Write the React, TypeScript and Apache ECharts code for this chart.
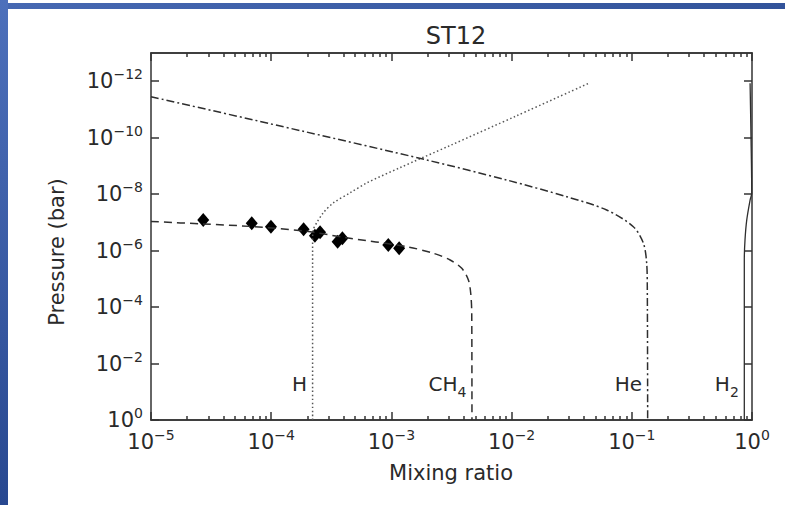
import React, { useEffect, useRef } from 'react';
import * as echarts from 'echarts';

// Axis ticks (exponents of ten)
const xMajorExponents = [-5, -4, -3, -2, -1, 0];
const yMajorExponents = [-12, -10, -8, -6, -4, -2, 0];
const minorMultipliers = [2, 3, 4, 5, 6, 7, 8, 9];

// H profile (dotted)
const hMixing = [2.21e-4, 2.21e-4, 2.21e-4, 2.25e-4, 2.39e-4, 2.71e-4, 3.29e-4, 4.53e-4, 6.24e-4, 1.17e-3, 3.08e-3, 1.1e-2, 4.49e-2];
const hPressure = [1, 1e-6, 3.5e-7, 1.7e-7, 1.04e-7, 4.6e-8, 2.04e-8, 9.0e-9, 4.0e-9, 1.17e-9, 1.89e-10, 1.68e-11, 1.13e-12];

// CH4 profile (dashed)
const ch4Mixing = [1e-5, 2.71e-5, 6.92e-5, 1.87e-4, 4.11e-4, 1.34e-3, 2.23e-3, 3.08e-3, 3.85e-3, 4.37e-3, 4.57e-3, 4.66e-3, 4.68e-3];
const ch4Pressure = [9.3e-8, 1.14e-7, 1.4e-7, 2.02e-7, 3.43e-7, 7.26e-7, 1.24e-6, 2.15e-6, 4.24e-6, 1.1e-5, 3.25e-5, 1.66e-4, 1];

// He profile (dash-dot)
const heMixing = [1e-5, 1.85e-4, 1.97e-3, 9.1e-3, 2.87e-2, 6.18e-2, 0.103, 0.125, 0.133, 0.1346, 0.1355];
const hePressure = [3.53e-12, 5.94e-11, 6.17e-10, 3.15e-9, 1.23e-8, 3.65e-8, 1.42e-7, 5.51e-7, 2.82e-6, 2.48e-5, 1];

// H2 profile (solid)
const h2Mixing = [0.863, 0.863, 0.875, 0.904, 0.964, 0.995, 0.982, 0.964];
const h2Pressure = [1, 2.08e-6, 4.07e-7, 8.3e-8, 1.62e-8, 9.3e-9, 1.23e-10, 1.17e-12];

// Observed CH4 (diamonds)
const obsMixing = [2.72e-5, 6.89e-5, 9.95e-5, 1.86e-4, 2.31e-4, 2.55e-4, 3.57e-4, 3.91e-4, 9.42e-4, 1.16e-3];
const obsPressure = [8.24e-8, 1.08e-7, 1.42e-7, 1.76e-7, 3.0e-7, 2.24e-7, 4.83e-7, 3.66e-7, 6.3e-7, 8.3e-7];

// Species labels
const speciesLabels = ['H', 'CH{sub|4}', 'He', 'H{sub|2}'];
const speciesLabelMixing = [2.21e-4, 4.68e-3, 0.1355, 0.863];
const speciesLabelPressure = 0.053;

const FONT = "'DejaVu Sans', 'Liberation Sans', sans-serif";
const TXT = '#2a2a2a';

const lg = (v: number) => Math.log10(v);
const pairs = (xs: number[], ys: number[]) => xs.map((x, i) => [lg(x), lg(ys[i])]);

const xMinor: number[] = [];
for (let e = -5; e < 0; e++) for (const m of minorMultipliers) xMinor.push(e + Math.log10(m));

const powLabel = (v: number) => {
  const e = Math.round(v);
  return `{b|10}{s|${e < 0 ? '\u2212' + -e : e}}`;
};
const powRich = {
  b: { fontSize: 21, fontFamily: FONT, color: TXT, lineHeight: 24 },
  s: { fontSize: 14, fontFamily: FONT, color: TXT, padding: [0, 0, 14, 0] },
};

const lineCol = '#2e2e2e';
const frameStyle = { color: '#333', width: 1.5 };

export default function App() {
  const ref = useRef<HTMLDivElement>(null);
  useEffect(() => {
    if (!ref.current) return;
    const chart = echarts.init(ref.current, undefined, { renderer: 'svg' });
    const baseX = {
      type: 'value', min: -5, max: 0, splitLine: { show: false },
      axisLine: { show: true, onZero: false, lineStyle: frameStyle },
    };
    const baseY = {
      type: 'value', min: -13, max: 0, inverse: true, splitLine: { show: false },
      axisLine: { show: true, onZero: false, lineStyle: frameStyle },
    };
    chart.setOption({
      animation: false,
      backgroundColor: '#fff',
      title: {
        text: 'ST12', left: 451, top: 19, textAlign: 'center',
        textStyle: { fontFamily: FONT, fontSize: 24, fontWeight: 'normal', color: TXT },
      },
      grid: { left: 151, top: 53, width: 601, height: 367, containLabel: false },
      xAxis: [
        {
          ...baseX, position: 'bottom',
          axisTick: { show: true, inside: true, length: 8, customValues: xMajorExponents, lineStyle: frameStyle },
          axisLabel: { show: true, customValues: xMajorExponents, formatter: powLabel, rich: powRich, margin: 8 },
        },
        {
          ...baseX, position: 'bottom',
          axisTick: { show: true, inside: true, length: 4, customValues: xMinor, lineStyle: frameStyle },
          axisLabel: { show: false },
        },
        {
          ...baseX, position: 'top',
          axisTick: { show: true, inside: true, length: 8, customValues: xMajorExponents, lineStyle: frameStyle },
          axisLabel: { show: false },
        },
        {
          ...baseX, position: 'top',
          axisTick: { show: true, inside: true, length: 4, customValues: xMinor, lineStyle: frameStyle },
          axisLabel: { show: false },
        },
      ],
      yAxis: [
        {
          ...baseY, position: 'left',
          axisTick: { show: true, inside: true, length: 8, customValues: yMajorExponents, lineStyle: frameStyle },
          axisLabel: { show: true, customValues: yMajorExponents, formatter: powLabel, rich: powRich, margin: 8 },
        },
        {
          ...baseY, position: 'right',
          axisTick: { show: true, inside: true, length: 8, customValues: yMajorExponents, lineStyle: frameStyle },
          axisLabel: { show: false },
        },
      ],
      graphic: [
        {
          type: 'rect', silent: true, shape: { x: 0, y: 0, width: 8, height: 505 },
          style: { fill: new echarts.graphic.LinearGradient(0, 0, 0, 1, [{ offset: 0, color: '#4d70bb' }, { offset: 1, color: '#284890' }]) },
        },
        {
          type: 'rect', silent: true, shape: { x: 8, y: 3, width: 777, height: 6 },
          style: { fill: new echarts.graphic.LinearGradient(0, 0, 1, 0, [{ offset: 0, color: '#4668b2' }, { offset: 1, color: '#32539a' }]) },
        },
        {
          type: 'text', x: 57, y: 252, rotation: Math.PI / 2, silent: true,
          style: {
            text: 'Pressure (bar)', fontSize: 21, fontFamily: FONT, fill: TXT,
            align: 'center', verticalAlign: 'middle', textAlign: 'center', textVerticalAlign: 'middle',
          },
        },
        {
          type: 'text', x: 451, y: 473, silent: true,
          style: {
            text: 'Mixing ratio', fontSize: 21, fontFamily: FONT, fill: TXT,
            align: 'center', verticalAlign: 'middle', textAlign: 'center', textVerticalAlign: 'middle',
          },
        },
      ],
      series: [
        {
          name: 'H', type: 'line', data: pairs(hMixing, hPressure), symbol: 'none', smooth: 0.3,
          lineStyle: { type: [1.5, 2.5], width: 1.5, color: '#555' },
        },
        {
          name: 'CH4', type: 'line', data: pairs(ch4Mixing, ch4Pressure), symbol: 'none', smooth: 0.3,
          lineStyle: { type: [8, 5], width: 1.5, color: lineCol },
        },
        {
          name: 'He', type: 'line', data: pairs(heMixing, hePressure), symbol: 'none', smooth: 0.3,
          lineStyle: { type: [8, 3, 2, 3], width: 1.5, color: lineCol },
        },
        {
          name: 'H2', type: 'line', data: pairs(h2Mixing, h2Pressure), symbol: 'none', smooth: 0.3,
          lineStyle: { type: 'solid', width: 1.3, color: lineCol },
        },
        {
          name: 'obs', type: 'scatter', data: pairs(obsMixing, obsPressure), symbol: 'diamond', symbolSize: [12, 14],
          itemStyle: { color: '#000', opacity: 1 },
        },
        {
          name: 'labels', type: 'scatter', silent: true,
          data: speciesLabelMixing.map((x) => [lg(x), lg(speciesLabelPressure)]),
          symbolSize: 1, itemStyle: { color: 'transparent' },
          label: {
            show: true, position: 'left', distance: 5,
            formatter: (p: any) => speciesLabels[p.dataIndex],
            fontSize: 20, fontFamily: FONT, color: TXT, opacity: 1,
            rich: { sub: { fontSize: 14, fontFamily: FONT, color: TXT, padding: [16, 0, 0, 0] } },
          },
        },
      ],
    });
    return () => chart.dispose();
  }, []);
  return <div ref={ref} style={{ position: 'absolute', left: 0, top: 0, width: 785, height: 505, background: '#fff' }} />;
}
